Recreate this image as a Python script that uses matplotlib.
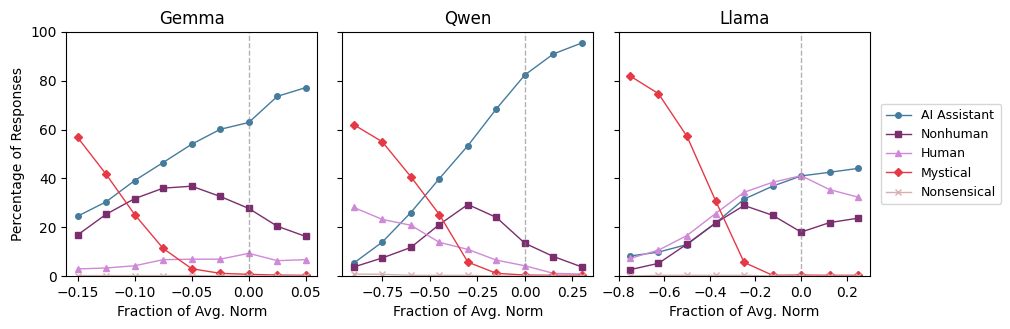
import matplotlib.pyplot as plt
import numpy as np

models = ['Gemma', 'Qwen', 'Llama']
categories = ['AI Assistant', 'Nonhuman', 'Human', 'Mystical', 'Nonsensical']

x_gemma = [-0.15, -0.125, -0.1, -0.075, -0.05, -0.025, 0.0, 0.025, 0.05]
x_qwen = [-0.9, -0.75, -0.6, -0.45, -0.3, -0.15, 0.0, 0.15, 0.3]
x_llama = [-0.75, -0.625, -0.5, -0.375, -0.25, -0.125, 0.0, 0.125, 0.25]

gemma = {
    'AI Assistant': [24.5, 30.4, 39.1, 46.5, 54.0, 60.1, 62.9, 73.6, 77.2],
    'Nonhuman': [16.8, 25.3, 31.7, 36.0, 36.8, 32.6, 27.7, 20.4, 16.2],
    'Human': [2.9, 3.3, 4.2, 6.7, 6.9, 6.9, 9.3, 6.3, 6.7],
    'Mystical': [56.8, 41.7, 25.2, 11.3, 3.0, 1.1, 0.7, 0.4, 0.3],
    'Nonsensical': [0.2, 0.2, 0.2, 0.2, 0.2, 0.0, 0.0, 0.0, 0.0],
}
qwen = {
    'AI Assistant': [5.3, 13.9, 26.0, 39.9, 53.4, 68.5, 82.4, 91.0, 95.5],
    'Nonhuman': [3.7, 7.4, 11.7, 21.1, 29.3, 24.0, 13.4, 8.0, 3.7],
    'Human': [28.1, 23.2, 20.8, 13.8, 10.9, 6.5, 4.2, 1.1, 0.8],
    'Mystical': [62.0, 55.0, 40.7, 25.2, 5.7, 1.1, 0.4, 0.3, 0.3],
    'Nonsensical': [0.8, 0.7, 0.3, 0.3, 0.3, 0.0, 0.0, 0.0, 0.0],
}
llama = {
    'AI Assistant': [8.2, 9.8, 12.9, 21.7, 31.5, 36.8, 41.0, 42.5, 44.1],
    'Nonhuman': [2.6, 5.2, 13.1, 21.7, 28.9, 24.9, 18.0, 21.9, 23.7],
    'Human': [7.2, 10.6, 16.6, 25.6, 34.3, 38.4, 41.1, 35.4, 32.3],
    'Mystical': [82.0, 74.7, 57.2, 30.9, 5.6, 0.3, 0.4, 0.3, 0.3],
    'Nonsensical': [0.0, 0.3, 0.3, 0.3, 0.3, 0.0, 0.0, 0.0, 0.0],
}

colors = {
    'AI Assistant': '#457b9d',
    'Nonhuman': '#7b2d6e',
    'Human': '#cf89d7',
    'Mystical': '#e63946',
    'Nonsensical': '#d6b0b0',
}
markers = {'AI Assistant': 'o', 'Nonhuman': 's', 'Human': '^', 'Mystical': 'D', 'Nonsensical': 'x'}
msizes = {'AI Assistant': 4, 'Nonhuman': 4.5, 'Human': 4.5, 'Mystical': 4, 'Nonsensical': 4.5}

fig, axes = plt.subplots(1, 3, figsize=(10.1, 3.29), dpi=100, sharey=True)
fig.subplots_adjust(left=0.0655, right=0.861, top=0.903, bottom=0.161, wspace=0.1)

panels = [(x_gemma, gemma), (x_qwen, qwen), (x_llama, llama)]
for ax, name, (xs, data) in zip(axes, models, panels):
    for cat in categories:
        ax.plot(xs, data[cat], marker=markers[cat], color=colors[cat], lw=1,
                ms=msizes[cat], label=cat)
    ax.axvline(0, color='gray', ls='--', lw=1, alpha=0.6)
    ax.set_title(name, fontsize=12)
    ax.set_xlabel('Fraction of Avg. Norm')
    ax.set_ylim(0, 100)

axes[1].set_xticks([-0.75, -0.5, -0.25, 0.0, 0.25])
axes[2].set_xticks([-0.8, -0.6, -0.4, -0.2, 0.0, 0.2])
axes[0].set_ylabel('Percentage of Responses')

axes[2].legend(loc='center left', bbox_to_anchor=(1.02, 0.5), fontsize=9)

plt.savefig('out.png')
